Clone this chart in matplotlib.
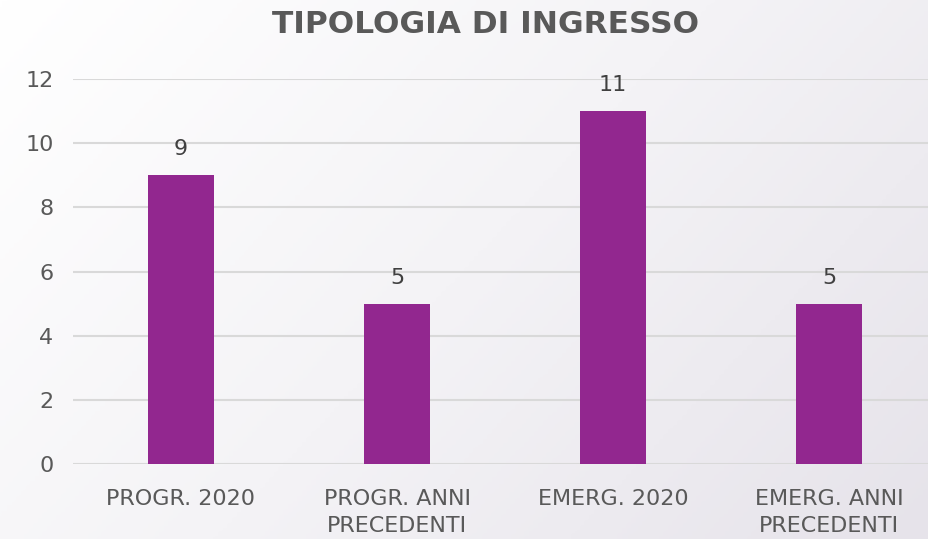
import numpy as np
import matplotlib.pyplot as plt
from matplotlib.colors import LinearSegmentedColormap

categories = ["PROGR. 2020", "PROGR. ANNI\nPRECEDENTI", "EMERG. 2020", "EMERG. ANNI\nPRECEDENTI"]
values = [9, 5, 11, 5]
yticks = [0, 2, 4, 6, 8, 10, 12]

plt.rcParams['font.family'] = ['DejaVu Sans']

fig = plt.figure(figsize=(9.29, 5.39), dpi=100)

# background gradient, white at top-left to light lavender-gray bottom-right
bg = fig.add_axes([0, 0, 1, 1], zorder=-10)
gx, gy = np.meshgrid(np.linspace(0, 1, 200), np.linspace(0, 1, 200))
g = 0.65 * gx + 0.35 * gy
cmap = LinearSegmentedColormap.from_list('bg', ['#ffffff', '#f4f3f6', '#e6e3ea'])
bg.imshow(g, cmap=cmap, aspect='auto', extent=[0, 1, 0, 1], origin='upper')
bg.axis('off')

ax = fig.add_axes([73 / 929, 75 / 539, 864 / 929, 385 / 539])
ax.patch.set_alpha(0)
x = np.arange(len(categories))
ax.bar(x, values, width=0.31, color='#92278f', zorder=3)
for xi, v in zip(x, values):
    ax.text(xi, v + 0.5, str(v), ha='center', va='bottom', fontsize=16, color='#404040')

ax.set_xlim(-0.5, 3.5)
ax.set_ylim(0, 12)
ax.set_yticks(yticks)
ax.set_xticks(x)
ax.set_xticklabels(categories, fontsize=16, color='#595959', linespacing=1.45)
ax.tick_params(axis='y', labelsize=16, labelcolor='#595959', length=0, pad=14)
ax.tick_params(axis='x', length=0, pad=18)
ax.grid(axis='y', color='#d9d9d9', linewidth=1.5, zorder=0)
for s in ax.spines.values():
    s.set_visible(False)

fig.text(0.523, 0.955, "TIPOLOGIA DI INGRESSO", ha='center', va='center',
         fontsize=22.5, fontweight='bold', color='#595959')

fig.savefig('out.png', dpi=100)
